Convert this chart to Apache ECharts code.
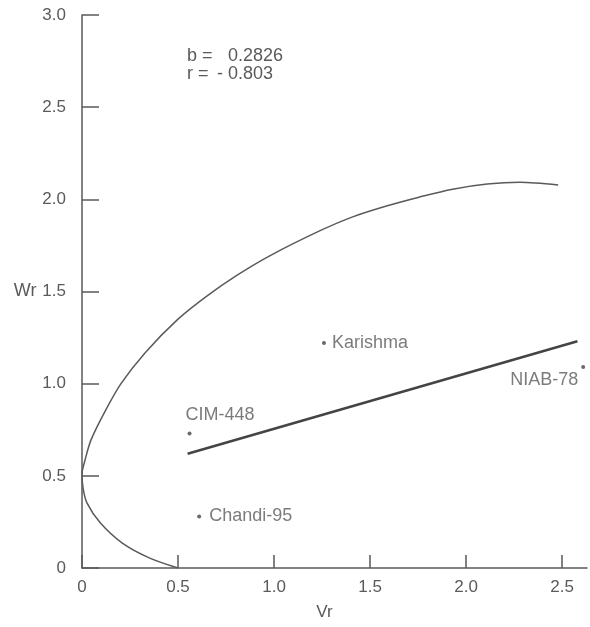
<!DOCTYPE html>
<html>
<head>
<meta charset="utf-8">
<script src="https://cdn.jsdelivr.net/npm/echarts@6/dist/echarts.min.js"></script>
<style>
  html, body { margin: 0; padding: 0; background: #fff; }
  #chart { width: 590px; height: 627px; }
</style>
</head>
<body>
<div id="chart"></div>
<script>
// Parents (Vr, Wr)
const parents = ['Karishma', 'NIAB-78', 'CIM-448', 'Chandi-95'];
const parentVr = [1.26, 2.61, 0.56, 0.61];
const parentWr = [1.22, 1.09, 0.73, 0.28];

// Limiting parabola, traced point by point
const curveVr = [0.50, 0.35, 0.21, 0.095, 0.025, 0.006, 0.0, 0.016, 0.047, 0.12, 0.203, 0.328, 0.50, 0.65, 0.81, 0.98, 1.24, 1.41, 1.59, 1.76, 1.93, 2.11, 2.28, 2.48];
const curveWr = [0.0, 0.055, 0.135, 0.245, 0.355, 0.43, 0.51, 0.586, 0.695, 0.85, 1.0, 1.167, 1.35, 1.475, 1.59, 1.695, 1.83, 1.905, 1.965, 2.013, 2.055, 2.083, 2.093, 2.078];

// Regression line end points
const regVr = [0.55, 2.58];
const regWr = [0.62, 1.23];

const xTicks = [0, 0.5, 1.0, 1.5, 2.0, 2.5];
const yTicks = [0, 0.5, 1.0, 1.5, 2.0, 2.5, 3.0];

const stats = { b: '0.2826', r: '- 0.803' };

const grey = '#5a5a5a';
const font = 'Liberation Sans, Arial, sans-serif';

function zip(a, b) {
    return a.map((v, i) => [v, b[i]]);
}

function tickText(v) {
    return v === 0 ? '0' : v.toFixed(1);
}

// label placement for each parent, relative to its dot
const labelPlace = {
    'Karishma': { position: 'right', distance: 6 },
    'NIAB-78': { position: [-3, 15], align: 'right', verticalAlign: 'middle' },
    'CIM-448': { position: [-2, -16], align: 'left', verticalAlign: 'middle' },
    'Chandi-95': { position: 'right', distance: 8 }
};

const chart = echarts.init(document.getElementById('chart'));

chart.setOption({
    backgroundColor: '#fff',
    animation: false,
    grid: { left: 82, right: 3, top: 15, bottom: 59 },
    xAxis: {
        type: 'value',
        min: 0,
        max: 2.63,
        interval: 0.5,
        name: 'Vr',
        nameLocation: 'middle',
        nameGap: 36,
        nameTextStyle: { color: grey, fontSize: 17, fontFamily: font, padding: [0, 20, 0, 0] },
        axisLine: { lineStyle: { color: grey, width: 1.5 } },
        axisTick: { inside: true, length: 13, customValues: xTicks, lineStyle: { color: grey, width: 1.5 } },
        axisLabel: { customValues: xTicks, formatter: tickText, color: grey, fontSize: 17, fontFamily: font, margin: 11 },
        splitLine: { show: false }
    },
    yAxis: {
        type: 'value',
        min: 0,
        max: 3.0,
        interval: 0.5,
        name: 'Wr',
        nameLocation: 'middle',
        nameRotate: 0,
        nameGap: 42,
        nameTextStyle: { color: grey, fontSize: 18, fontFamily: font },
        axisLine: { show: true, lineStyle: { color: grey, width: 1.5 } },
        axisTick: { show: true, inside: true, length: 17, customValues: yTicks, lineStyle: { color: grey, width: 1.5 } },
        axisLabel: { customValues: yTicks, formatter: tickText, color: grey, fontSize: 17, fontFamily: font, margin: 16 },
        splitLine: { show: false }
    },
    graphic: [
        { type: 'text', left: 187, top: 47, style: { text: 'b =', fill: grey, font: '18px ' + font } },
        { type: 'text', left: 228, top: 47, style: { text: stats.b, fill: grey, font: '18px ' + font } },
        { type: 'text', left: 187, top: 65, style: { text: 'r =', fill: grey, font: '18px ' + font } },
        { type: 'text', left: 217, top: 65, style: { text: stats.r, fill: grey, font: '18px ' + font } }
    ],
    series: [
        {
            type: 'line',
            data: zip(curveVr, curveWr),
            smooth: 0.3,
            showSymbol: false,
            lineStyle: { color: grey, width: 1.5 },
            silent: true
        },
        {
            type: 'line',
            data: zip(regVr, regWr),
            showSymbol: false,
            lineStyle: { color: '#444', width: 2.5 },
            silent: true
        },
        {
            type: 'scatter',
            symbolSize: 4,
            itemStyle: { color: '#444' },
            data: parents.map((name, i) => ({
                name: name,
                value: [parentVr[i], parentWr[i]],
                label: Object.assign({
                    show: true,
                    formatter: name,
                    color: grey,
                    fontSize: 18,
                    fontFamily: font
                }, labelPlace[name])
            }))
        }
    ]
});
</script>
</body>
</html>
